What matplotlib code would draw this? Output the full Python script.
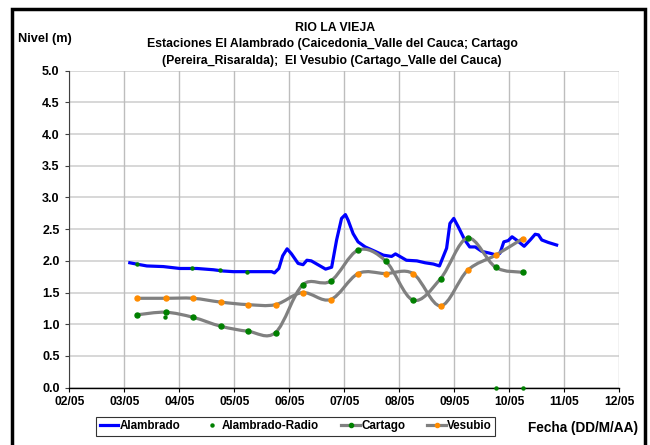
import matplotlib

matplotlib.use("Agg")
import numpy as np
from matplotlib import pyplot as plt
from matplotlib.lines import Line2D
from matplotlib.patches import PathPatch, Rectangle
from matplotlib.path import Path

plt.rcParams["font.family"] = ["Liberation Sans", "DejaVu Sans"]
plt.rcParams["font.weight"] = "bold"

# day of May (fractional) and level in meters
alambrado_day = [3.10, 3.22, 3.41, 3.71, 4.01, 4.32, 4.62, 4.80, 4.98, 5.35, 5.68, 5.73,
                 5.81, 5.88, 5.96, 6.04, 6.16, 6.25, 6.32, 6.40, 6.56, 6.66, 6.77, 6.86,
                 6.95, 7.02, 7.07, 7.16, 7.25, 7.38, 7.56, 7.71, 7.86, 7.93, 8.01, 8.13,
                 8.32, 8.47, 8.62, 8.73, 8.86, 8.92, 8.99, 9.07, 9.19, 9.28, 9.38, 9.50,
                 9.65, 9.77, 9.83, 9.90, 9.98, 10.05, 10.13, 10.27, 10.38, 10.47, 10.53,
                 10.59, 10.71, 10.86]
alambrado_val = [1.97, 1.95, 1.92, 1.91, 1.88, 1.88, 1.86, 1.84, 1.83, 1.83, 1.83, 1.81,
                 1.88, 2.08, 2.19, 2.11, 1.96, 1.94, 2.01, 2.00, 1.92, 1.87, 1.90, 2.33,
                 2.67, 2.73, 2.64, 2.43, 2.30, 2.22, 2.15, 2.09, 2.07, 2.11, 2.07, 2.01,
                 2.00, 1.97, 1.95, 1.92, 2.20, 2.59, 2.67, 2.54, 2.33, 2.22, 2.22, 2.15,
                 2.12, 2.09, 2.12, 2.30, 2.32, 2.38, 2.33, 2.23, 2.33, 2.42, 2.41,
                 2.33, 2.29, 2.25]

radio_day = [3.23, 3.74, 4.24, 4.74, 5.24, 9.75, 10.24]
radio_val = [1.95, 1.11, 1.88, 1.85, 1.83, 0.0, 0.0]

cartago_day = [3.24, 3.75, 4.25, 4.75, 5.25, 5.75, 6.24, 6.75, 7.25, 7.75, 8.25, 8.75,
               9.24, 9.75, 10.24]
cartago_val = [1.15, 1.19, 1.11, 0.97, 0.89, 0.87, 1.62, 1.68, 2.17, 2.00, 1.38, 1.72,
               2.36, 1.90, 1.82]

vesubio_day = [3.24, 3.75, 4.25, 4.75, 5.25, 5.75, 6.24, 6.75, 7.25, 7.75, 8.25, 8.75,
               9.24, 9.75, 10.24]
vesubio_val = [1.41, 1.41, 1.41, 1.35, 1.31, 1.31, 1.50, 1.39, 1.80, 1.80, 1.80, 1.29,
               1.85, 2.09, 2.35]

tick_days = list(range(2, 13))
tick_labels = ["%02d/05" % d for d in tick_days]
y_ticks = [0.0, 0.5, 1.0, 1.5, 2.0, 2.5, 3.0, 3.5, 4.0, 4.5, 5.0]

BLUE = "#0000ff"
GRAY = "#808080"
GREEN = "#008000"
ORANGE = "#ff8c00"


def smooth_path(x, y):
    # excel-like smoothed line: cubic bezier through the points (catmull-rom)
    pts = np.column_stack([x, y]).astype(float)
    n = len(pts)
    verts = [pts[0]]
    codes = [Path.MOVETO]
    for i in range(n - 1):
        p0 = pts[i - 1] if i > 0 else pts[i]
        p1 = pts[i]
        p2 = pts[i + 1]
        p3 = pts[i + 2] if i + 2 < n else pts[i + 1]
        c1 = p1 + (p2 - p0) / 6.0
        c2 = p2 - (p3 - p1) / 6.0
        verts.extend([c1, c2, p2])
        codes.extend([Path.CURVE4] * 3)
    return Path(verts, codes)


fig = plt.figure(figsize=(6.5, 4.45), dpi=100)
ax = fig.add_axes([0.1066, 0.1288, 0.8462, 0.7124])

# horizontal and vertical grid
for v in y_ticks:
    ax.axhline(v, color="#d4d4d4", lw=1.3, zorder=0)
for d in tick_days:
    ax.axvline(d, color="#bdbdbd", lw=1.0, zorder=0)

ax.plot(alambrado_day, alambrado_val, color=BLUE, lw=2.3, zorder=3)
ax.plot(radio_day, radio_val, ls="none", marker="o", ms=2.2, color=GREEN,
        mec=GREEN, zorder=4, clip_on=False)

for days, vals, mcolor, z in [(cartago_day, cartago_val, GREEN, 5),
                              (vesubio_day, vesubio_val, ORANGE, 6)]:
    patch = PathPatch(smooth_path(days, vals), fill=False, edgecolor=GRAY, lw=2.3,
                      zorder=z, capstyle="round", joinstyle="round")
    ax.add_patch(patch)
    ax.plot(days, vals, ls="none", marker="o", ms=3.6, color=mcolor, mec=mcolor,
            zorder=z + 0.5)

ax.set_xlim(2, 12)
ax.set_ylim(0, 5)
ax.set_xticks(tick_days)
ax.set_xticklabels(tick_labels)
ax.set_yticks(y_ticks)
ax.set_yticklabels(["%.1f" % v for v in y_ticks])
ax.tick_params(axis="both", direction="out", length=3, width=0.8)
ax.tick_params(axis="y", pad=4, colors="#404040", labelcolor="black", labelsize=9)
ax.tick_params(axis="x", pad=3, labelsize=8.7)
for lab in ax.get_xticklabels() + ax.get_yticklabels():
    lab.set_fontweight("bold")

ax.spines["top"].set_visible(False)
ax.spines["right"].set_visible(False)
ax.spines["left"].set_color("#404040")
ax.spines["bottom"].set_color("black")
ax.spines["left"].set_linewidth(0.8)
ax.spines["bottom"].set_linewidth(1.0)

fig.text(0.515, 0.937, "RIO LA VIEJA", ha="center", va="center", fontsize=8.8,
         fontweight="bold")
fig.text(0.511, 0.900, "Estaciones El Alambrado (Caicedonia_Valle del Cauca; Cartago",
         ha="center", va="center", fontsize=8.8, fontweight="bold")
fig.text(0.511, 0.864, "(Pereira_Risaralda);  El Vesubio (Cartago_Valle del Cauca)",
         ha="center", va="center", fontsize=8.8, fontweight="bold")
fig.text(0.028, 0.912, "Nivel (m)", ha="left", va="center", fontsize=9.2,
         fontweight="bold")
fig.text(0.982, 0.038, "Fecha (DD/M/AA)", ha="right", va="center", fontsize=9.8,
         fontweight="bold")

handles = [
    Line2D([], [], color=BLUE, lw=2.3),
    Line2D([], [], ls="none", marker="o", ms=2.2, color=GREEN),
    Line2D([], [], color=GRAY, lw=2.3, marker="o", ms=3.0, mfc=GREEN, mec=GREEN),
    Line2D([], [], color=GRAY, lw=2.3, marker="o", ms=3.0, mfc=ORANGE, mec=ORANGE),
]
labels = ["Alambrado", "Alambrado-Radio", "Cartago", "Vesubio"]
leg = fig.legend(handles, labels, loc="center", bbox_to_anchor=(0.455, 0.042),
                 ncol=4, frameon=True, fancybox=False, handlelength=1.6,
                 handletextpad=0.1, columnspacing=1.9, borderpad=0.3,
                 prop={"weight": "bold", "size": 8.4})
leg.get_frame().set_edgecolor("black")
leg.get_frame().set_linewidth(0.8)

# outer chart border
fig.patches.append(Rectangle((0.0185, -0.02), 0.9745, 1.0, transform=fig.transFigure,
                             fill=False, edgecolor="black", lw=2.5))

fig.savefig("out.png", dpi=100)
